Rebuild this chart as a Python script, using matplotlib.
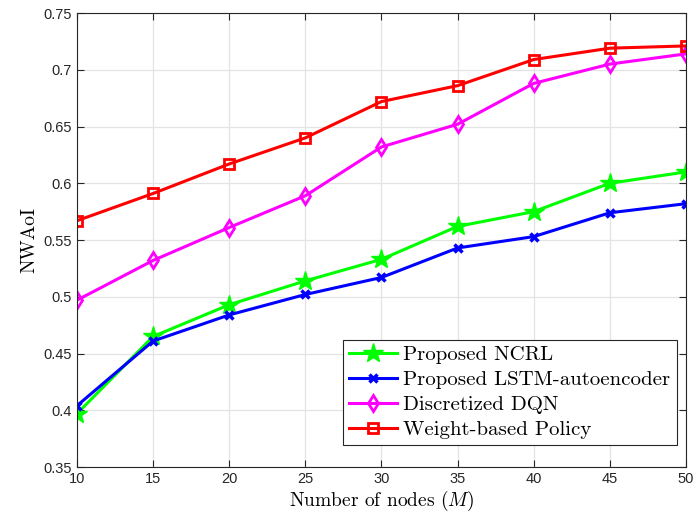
import numpy as np
import matplotlib.pyplot as plt

# data
nodes = [10, 15, 20, 25, 30, 35, 40, 45, 50]
ncrl = [0.397, 0.465, 0.493, 0.514, 0.533, 0.562, 0.575, 0.600, 0.610]
lstm = [0.404, 0.461, 0.484, 0.502, 0.517, 0.543, 0.553, 0.574, 0.582]
dqn = [0.497, 0.532, 0.561, 0.589, 0.632, 0.652, 0.688, 0.705, 0.714]
weight = [0.567, 0.591, 0.617, 0.640, 0.672, 0.686, 0.709, 0.719, 0.721]
labels = ['Proposed NCRL', 'Proposed LSTM-autoencoder', 'Discretized DQN', 'Weight-based Policy']

plt.rcParams['mathtext.fontset'] = 'cm'
serif = {'family': 'cmr10'}

fig = plt.figure(figsize=(6.96, 5.14), dpi=100)
ax = fig.add_axes([0.1106, 0.0914, 0.875, 0.8833])

ax.plot(nodes, ncrl, '-*', color='#00ff00', lw=2.2, ms=15, label=labels[0])
ax.plot(nodes, lstm, '-x', color='#0000ff', lw=2.2, ms=6, mew=2.5, label=labels[1])
ax.plot(nodes, dqn, '-d', color='#ff00ff', lw=2.2, ms=8, mfc='none', mew=2, label=labels[2])
ax.plot(nodes, weight, '-s', color='#ff0000', lw=2.2, ms=7, mfc='none', mew=2, label=labels[3])

ax.set_xlim(10, 50)
ax.set_ylim(0.35, 0.75)
ax.set_xticks(np.arange(10, 51, 5))
ax.set_yticks(np.arange(0.35, 0.751, 0.05))
ax.set_yticklabels(['0.35', '0.4', '0.45', '0.5', '0.55', '0.6', '0.65', '0.7', '0.75'])
ax.grid(True, color='#e3e3e3', lw=0.9)
ax.set_axisbelow(True)
ax.tick_params(direction='in', top=True, right=True, length=5, labelsize=10.5,
               colors='#262626', labelcolor='#262626')
for lab in ax.get_xticklabels() + ax.get_yticklabels():
    lab.set_family('Liberation Sans')
for s in ax.spines.values():
    s.set_color('#262626')
    s.set_linewidth(0.8)

ax.set_xlabel(r'Number of nodes ($M$)', fontdict=serif, fontsize=14, labelpad=2)
ax.set_ylabel('NWAoI', fontdict=serif, fontsize=14, labelpad=4)

leg = ax.legend(loc='lower right', bbox_to_anchor=(0.985, 0.048),
                prop={'family': 'cmr10', 'size': 15},
                fancybox=False, edgecolor='#262626', framealpha=1,
                borderpad=0.3, labelspacing=0.3, handlelength=2.3, handletextpad=0.3,
                borderaxespad=0)
leg.get_frame().set_linewidth(0.8)

plt.savefig('out.png', dpi=100)
